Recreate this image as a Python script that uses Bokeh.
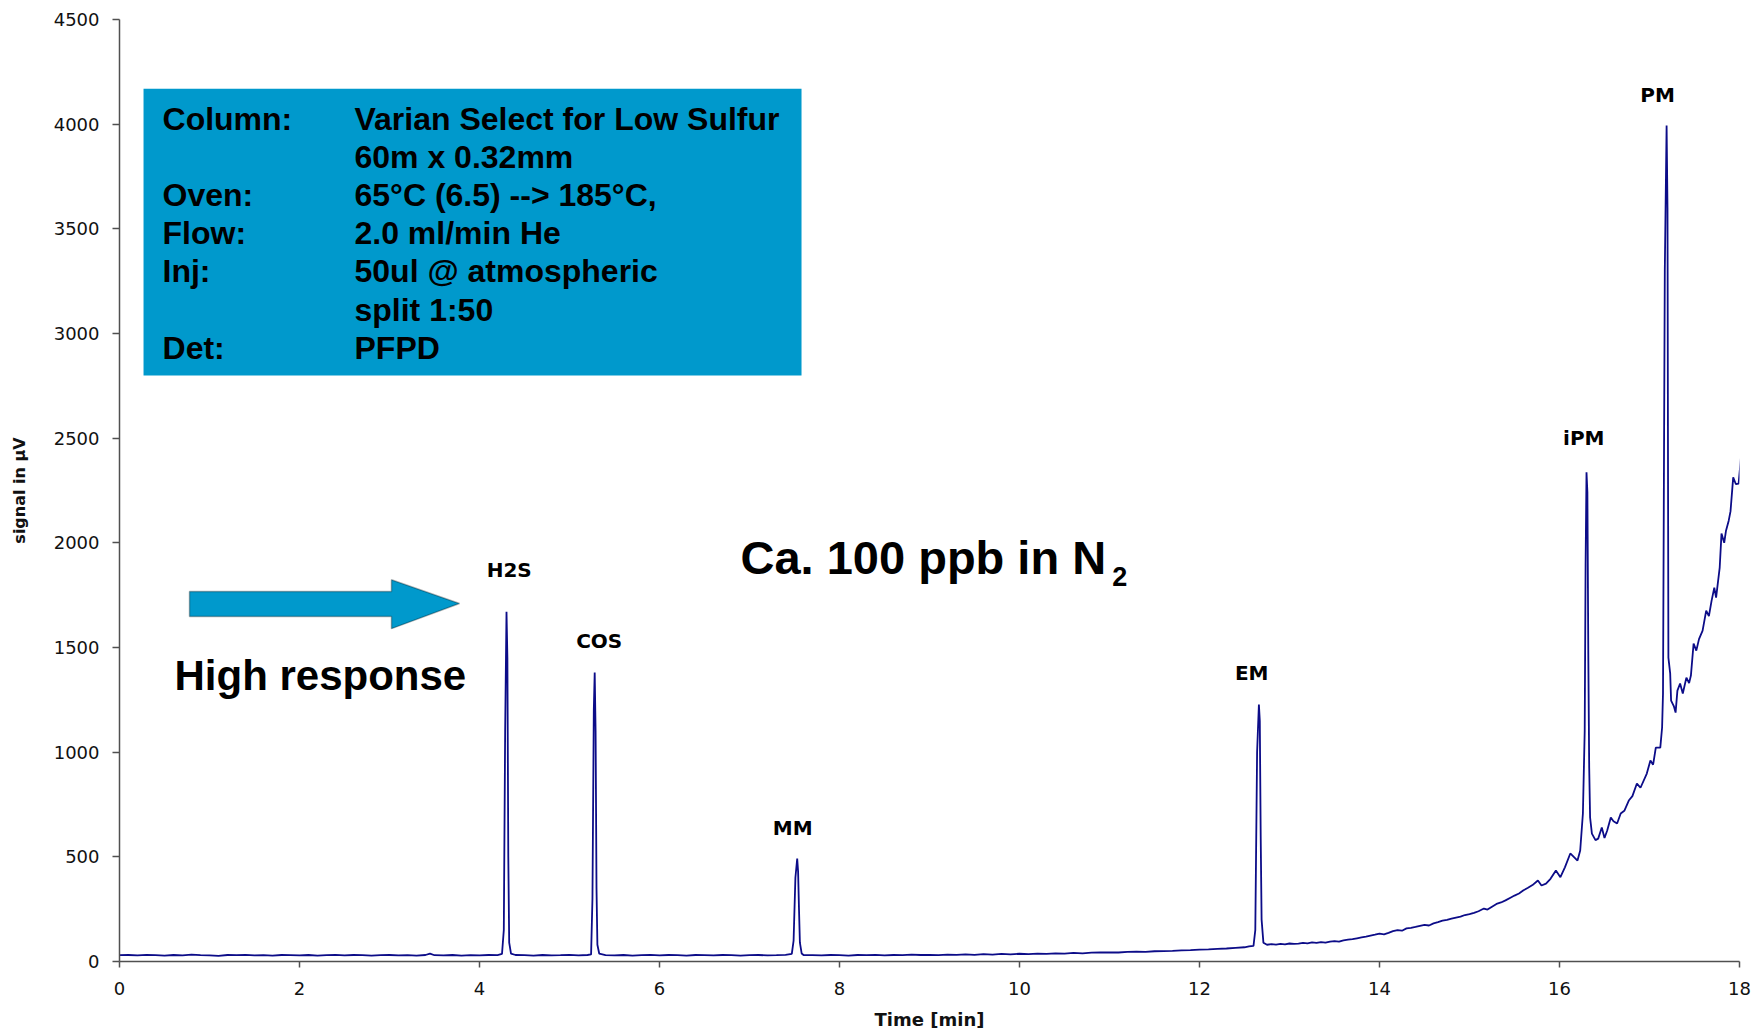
from bokeh.plotting import figure
from bokeh.models import Range1d, FixedTicker, BoxAnnotation, Label, PolyAnnotation
from bokeh.embed import file_html
from bokeh.resources import INLINE

# ---- data ----
trace_time = [
    0.0, 0.1, 0.2, 0.3, 0.4, 0.5, 0.6, 0.7, 0.8, 0.9, 1.0, 1.1, 1.2, 1.3, 1.4, 1.5, 1.6, 1.7, 1.8, 1.9,
    2.0, 2.1, 2.2, 2.3, 2.4, 2.5, 2.6, 2.7, 2.8, 2.9, 3.0, 3.1, 3.2, 3.3, 3.4, 3.45, 3.5, 3.6, 3.7, 3.8,
    3.9, 4.0, 4.1, 4.2, 4.25,
    4.27, 4.285, 4.30, 4.31, 4.32, 4.33, 4.35, 4.4, 4.5, 4.6, 4.7, 4.8, 4.9, 5.0, 5.1, 5.2, 5.24,
    5.255, 5.27, 5.28, 5.29, 5.30, 5.31, 5.33, 5.4, 5.5, 5.6, 5.7, 5.8, 5.9, 6.0, 6.1, 6.2, 6.3, 6.4,
    6.5, 6.6, 6.7, 6.8, 6.9, 7.0, 7.1, 7.2, 7.3, 7.4, 7.47,
    7.49, 7.51, 7.53, 7.54, 7.55, 7.56, 7.58, 7.6, 7.7, 7.8, 7.9, 8.0, 8.1, 8.2, 8.3, 8.4, 8.5, 8.6,
    8.7, 8.8, 8.9, 9.0, 9.1, 9.2, 9.3, 9.4, 9.5, 9.6, 9.7, 9.8, 9.9, 10.0, 10.1, 10.2, 10.3, 10.4,
    10.5, 10.6, 10.7, 10.8, 10.9, 11.0, 11.1, 11.2, 11.3, 11.4, 11.5, 11.6, 11.7, 11.8, 11.9, 12.0,
    12.1, 12.2, 12.3, 12.4, 12.5, 12.55, 12.6,
    12.62, 12.64, 12.66, 12.67, 12.68, 12.69, 12.71,
    12.75, 12.8, 12.85, 12.9, 12.95, 13.0, 13.05, 13.1, 13.15, 13.2, 13.25, 13.3, 13.35, 13.4, 13.45,
    13.5, 13.55, 13.6, 13.65, 13.7, 13.75, 13.8, 13.85, 13.9, 13.95, 14.0, 14.05, 14.1, 14.15, 14.2,
    14.25, 14.3, 14.35, 14.4, 14.45, 14.5, 14.55, 14.6, 14.65, 14.7, 14.75, 14.8, 14.85, 14.9, 14.95,
    15.0, 15.05, 15.1, 15.16, 15.2, 15.25, 15.3, 15.35, 15.4, 15.46, 15.5, 15.55, 15.6, 15.65, 15.7,
    15.76, 15.8, 15.85, 15.9, 15.96, 16.01,
    16.06, 16.12, 16.2, 16.23, 16.26, 16.28, 16.29, 16.30, 16.31, 16.32, 16.33, 16.34, 16.36, 16.4,
    16.43, 16.47, 16.5, 16.53, 16.57, 16.6, 16.64, 16.68, 16.72, 16.77, 16.81, 16.86, 16.9, 16.97,
    17.01, 17.04, 17.07, 17.12, 17.14, 17.15, 17.17, 17.19, 17.20, 17.21, 17.23, 17.24, 17.27, 17.29,
    17.31, 17.34, 17.37, 17.41, 17.44, 17.46, 17.49, 17.52, 17.55, 17.59, 17.63, 17.66, 17.69, 17.72,
    17.74, 17.78, 17.80, 17.83, 17.85, 17.88, 17.90, 17.93, 17.96, 17.99, 18.02,
]
trace_signal = [
    30, 31, 29, 32, 30, 28, 31, 29, 33, 30, 29, 27, 31, 30, 32, 29, 30, 28, 31, 30,
    29, 31, 28, 30, 32, 29, 31, 30, 28, 30, 31, 29, 30, 28, 31, 38, 30, 29, 31, 28,
    30, 29, 31, 30, 36,
    150, 1100, 1671, 1450, 500, 90, 38, 31, 30, 28, 31, 29, 30, 32, 29, 31, 34,
    300, 1200, 1380, 1100, 350, 80, 38, 30, 29, 31, 28, 30, 32, 29, 31, 30, 28, 31,
    30, 29, 31, 30, 28, 30, 31, 29, 30, 32, 36,
    100, 400, 492, 430, 250, 90, 38, 31, 30, 29, 31, 30, 28, 31, 30, 32, 29, 31,
    30, 33, 31, 32, 30, 33, 32, 34, 32, 35, 33, 36, 34, 37, 35, 38, 36, 39,
    38, 41, 39, 42, 43, 44, 43, 46, 47, 46, 49, 50, 51, 53, 54, 57,
    58, 60, 62, 65, 68, 72, 75,
    150, 1000, 1227, 1150, 600, 200, 90,
    80, 83, 81, 84, 82, 86, 84, 85, 89, 87, 91, 89, 93, 90, 95,
    97, 95, 101, 104, 107, 111, 115, 119, 124, 128, 133, 130, 137, 145, 150,
    147, 158, 161, 165, 170, 175, 172, 182, 188, 195, 199, 205, 210, 214, 222,
    226, 232, 240, 253, 248, 262, 275, 282, 292, 306, 315, 325, 340, 352, 365,
    387, 363, 372, 395, 435, 403,
    450, 516, 482, 530, 707, 1100, 1900, 2337, 2241, 1471, 927, 688, 611, 580,
    587, 640, 590, 626, 688, 670, 659, 707, 720, 769, 790, 850, 830, 898,
    960, 940, 1022, 1022, 1118, 1280, 3300, 3993, 3600, 1452, 1375, 1246, 1220, 1189,
    1294, 1328, 1280, 1356, 1330, 1366, 1519, 1485, 1540, 1581, 1676, 1650, 1724, 1786,
    1738, 1882, 2044, 2000, 2058, 2106, 2150, 2313, 2280, 2283, 2426,
]

peak_names = ["H2S", "COS", "MM", "EM", "iPM", "PM"]
peak_label_time = [4.33, 5.33, 7.48, 12.58, 16.27, 17.09]
peak_label_signal = [1872, 1533, 640, 1380, 2500, 4140]

x_ticks = [0, 2, 4, 6, 8, 10, 12, 14, 16, 18]
y_ticks = [0, 500, 1000, 1500, 2000, 2500, 3000, 3500, 4000, 4500]

info_keys = ["Column:", "", "Oven:", "Flow:", "Inj:", "", "Det:"]
info_values = ["Varian Select for Low Sulfur", "60m x 0.32mm", "65\u00b0C (6.5) --> 185\u00b0C,",
               "2.0 ml/min He", "50ul @ atmospheric", "split 1:50", "PFPD"]

# ---- figure ----
p = figure(width=1756, height=1032, output_backend="svg", toolbar_location=None,
           x_range=Range1d(0, 18), y_range=Range1d(0, 4500),
           min_border_left=119, min_border_right=17, min_border_top=19, min_border_bottom=71)
p.outline_line_color = None
p.grid.visible = False
p.background_fill_color = "white"
p.border_fill_color = "white"

for ax in (p.xaxis[0], p.yaxis[0]):
    ax.axis_line_color = "#505050"
    ax.axis_line_width = 1.5
    ax.major_tick_line_color = "#505050"
    ax.major_tick_line_width = 1.5
    ax.major_tick_in = 0
    ax.minor_tick_line_color = None
    ax.major_label_text_color = "#111111"
    ax.major_label_text_font = "DejaVu Sans"

p.xaxis.ticker = FixedTicker(ticks=x_ticks)
p.yaxis.ticker = FixedTicker(ticks=y_ticks)
p.xaxis.major_tick_out = 6
p.yaxis.major_tick_out = 7
p.xaxis.major_label_text_font_size = "18px"
p.yaxis.major_label_text_font_size = "18px"
p.xaxis.major_label_standoff = 14
p.yaxis.major_label_standoff = 13

p.yaxis.axis_label = "signal in \u00b5V"
p.yaxis.axis_label_text_font = "DejaVu Sans"
p.yaxis.axis_label_text_font_style = "bold"
p.yaxis.axis_label_text_font_size = "16px"
p.yaxis.axis_label_text_color = "#111111"
p.yaxis.axis_label_standoff = 22

p.xaxis.axis_label = "Time [min]"
p.xaxis.axis_label_text_font = "DejaVu Sans"
p.xaxis.axis_label_text_font_style = "bold"
p.xaxis.axis_label_text_font_size = "18px"
p.xaxis.axis_label_text_color = "#111111"
p.xaxis.axis_label_standoff = 11

# chromatogram trace
p.line(trace_time, trace_signal, line_color="#0c0c88", line_width=1.8)

# info box
box_blue = "#0099CC"
p.add_layout(BoxAnnotation(left=0.267, right=7.578, top=4169, bottom=2799,
                           fill_color=box_blue, fill_alpha=1.0, line_color=None))
baselines = [4024, 3843, 3661, 3480, 3298, 3112, 2931]
for k, v, yb in zip(info_keys, info_values, baselines):
    if k:
        p.add_layout(Label(x=0.478, y=yb, text=k, text_font="Liberation Sans", text_font_style="bold",
                           text_font_size="32px", text_color="black", text_baseline="alphabetic"))
    p.add_layout(Label(x=2.611, y=yb, text=v, text_font="Liberation Sans", text_font_style="bold",
                       text_font_size="32px", text_color="black", text_baseline="alphabetic"))

# arrow
p.add_layout(PolyAnnotation(xs=[0.778, 3.022, 3.022, 3.778, 3.022, 3.022, 0.778],
                            ys=[1767, 1767, 1824, 1710, 1590, 1648, 1648],
                            fill_color=box_blue, fill_alpha=1.0, line_color="black", line_width=1.5))

p.add_layout(Label(x=0.611, y=1366, text="High response", text_font="Liberation Sans",
                   text_font_style="bold", text_font_size="42px", text_color="black",
                   text_baseline="alphabetic"))
p.add_layout(Label(x=6.9, y=1931, text="Ca. 100 ppb in N", text_font="Liberation Sans",
                   text_font_style="bold", text_font_size="47px", text_color="black",
                   text_baseline="alphabetic"))
p.add_layout(Label(x=11.03, y=1840, text="2", text_font="Liberation Sans",
                   text_font_style="bold", text_font_size="27px", text_color="black",
                   text_baseline="alphabetic"))

# peak labels
for name, tx, ty in zip(peak_names, peak_label_time, peak_label_signal):
    p.add_layout(Label(x=tx, y=ty, text=name, text_font="DejaVu Sans", text_font_style="bold",
                       text_font_size="20px", text_color="black", text_align="center",
                       text_baseline="alphabetic"))

open("out.html", "w").write(file_html(p, INLINE))
